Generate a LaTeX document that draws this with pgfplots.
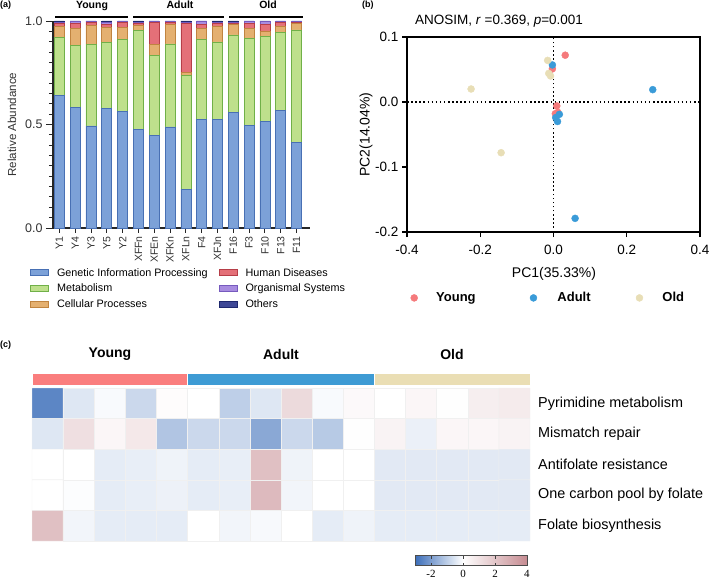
\documentclass[border=0pt]{standalone}
\usepackage{pgfplots}
\pgfplotsset{compat=1.18}
\usepackage{pgfplotstable}
\usepackage{fontspec}
\setmainfont{Liberation Sans}
\newfontfamily\seriffont{Liberation Serif}

\definecolor{cgen}{RGB}{124,161,216}
\definecolor{cgenD}{RGB}{72,112,180}
\definecolor{cmet}{RGB}{190,224,140}
\definecolor{cmetD}{RGB}{112,176,72}
\definecolor{ccel}{RGB}{228,176,112}
\definecolor{ccelD}{RGB}{192,132,64}
\definecolor{chum}{RGB}{228,112,120}
\definecolor{chumD}{RGB}{182,62,72}
\definecolor{corg}{RGB}{168,140,224}
\definecolor{corgD}{RGB}{118,90,190}
\definecolor{coth}{RGB}{62,72,150}
\definecolor{cothD}{RGB}{30,40,110}
\definecolor{cyoung}{RGB}{245,122,124}
\definecolor{cadult}{RGB}{58,155,216}
\definecolor{cold}{RGB}{232,222,182}
\definecolor{hyoung}{RGB}{250,126,126}
\definecolor{hadult}{RGB}{62,155,212}
\definecolor{hold}{RGB}{234,222,180}

\pgfplotsset{
  patchleg/.style={legend image code/.code={\draw[##1, line width=0.8pt] (0pt,-3pt) rectangle (18pt,3pt);}},
}

\pgfplotstableread{
x gen met cel hum org oth
0 0.639 0.282 0.053 0.016 0.005 0.005
1 0.583 0.297 0.083 0.024 0.011 0.002
2 0.493 0.393 0.091 0.018 0.003 0.002
3 0.579 0.317 0.075 0.012 0.012 0.005
4 0.563 0.347 0.061 0.023 0.003 0.003
5 0.477 0.478 0.024 0.011 0.005 0.005
6 0.448 0.387 0.051 0.109 0.002 0.003
7 0.488 0.401 0.095 0.011 0.003 0.002
8 0.185 0.552 0.016 0.237 0.002 0.008
9 0.525 0.388 0.052 0.019 0.014 0.002
10 0.525 0.374 0.077 0.014 0.005 0.005
11 0.557 0.376 0.051 0.006 0.004 0.006
12 0.496 0.421 0.049 0.021 0.011 0.002
13 0.515 0.410 0.027 0.032 0.014 0.002
14 0.570 0.375 0.031 0.019 0.003 0.002
15 0.414 0.543 0.030 0.008 0.003 0.002
}\abund

\pgfplotstableread{
x y c
0 0 -2.5
1 0 -0.5
2 0 -0.1
3 0 -0.8
4 0 0.1
5 0 0.0
6 0 -1.0
7 0 -0.5
8 0 1.3
9 0 -0.1
10 0 0.2
11 0 0.0
12 0 0.3
13 0 0.05
14 0 0.6
15 0 0.7
0 1 -0.5
1 1 1.1
2 1 0.3
3 1 0.8
4 1 -1.2
5 1 -0.8
6 1 -0.8
7 1 -1.8
8 1 -0.8
9 1 -1.1
10 1 0.05
11 1 0.4
12 1 -0.3
13 1 0.3
14 1 0.3
15 1 0.4
0 2 0.0
1 2 0.0
2 2 -0.4
3 2 -0.35
4 2 -0.25
5 2 -0.4
6 2 -0.35
7 2 2.2
8 2 -0.25
9 2 0.0
10 2 0.0
11 2 -0.45
12 2 -0.45
13 2 -0.45
14 2 -0.45
15 2 -0.45
0 3 0.0
1 3 -0.05
2 3 -0.4
3 3 -0.35
4 3 -0.28
5 3 -0.4
6 3 -0.35
7 3 2.4
8 3 -0.2
9 3 0.0
10 3 0.0
11 3 -0.45
12 3 -0.45
13 3 -0.45
14 3 -0.45
15 3 -0.45
0 4 2.2
1 4 -0.2
2 4 -0.4
3 4 -0.4
4 4 -0.4
5 4 0.0
6 4 -0.2
7 4 -0.12
8 4 0.0
9 4 -0.4
10 4 -0.25
11 4 -0.4
12 4 -0.4
13 4 -0.4
14 4 -0.4
15 4 -0.4
}\heat

\begin{document}
\begin{tikzpicture}[x=1pt,y=1pt]
\useasboundingbox (0,0) rectangle (709,579);

% ---------------- panel (a)
\begin{axis}[
  at={(53pt,351pt)}, anchor=south west, scale only axis,
  width=257pt, height=207pt,
  xmin=-0.4, xmax=15.85, ymin=0, ymax=1,
  ybar stacked, bar width=10pt,
  axis x line*=bottom, axis y line*=left,
  axis line style={line width=1.1pt, black!85},
  xtick={0,...,15},
  xticklabels={Y1,Y4,Y3,Y5,Y2,XFFn,XFEn,XFKn,XFLn,F4,XFJn,F16,F3,F10,F13,F11},
  xticklabel style={rotate=90, anchor=east, font=\fontsize{10.5}{12}\selectfont, text=black!80, inner sep=1pt},
  ytick={0,0.5,1}, minor y tick num=9,
  tick align=outside,
  major tick length=7pt, minor tick length=4pt,
  xtick style={/pgfplots/major tick length=4.5pt},
  tick style={line width=0.9pt, black!85},
  yticklabel style={font=\fontsize{12.5}{14}\selectfont, text=black!80,
    /pgf/number format/fixed, /pgf/number format/fixed zerofill,
    /pgf/number format/precision=1, /pgf/number format/assume math mode=true},
  legend columns=2,
  legend cell align=left,
  legend style={at={(-0.101,-0.174)}, anchor=north west, draw=none, fill=none,
    font=\fontsize{10.8}{12}\selectfont, row sep=2.5pt,
    /tikz/every even column/.append style={column sep=9pt},
    /tikz/every odd column/.append style={column sep=6pt}},
]
\addplot[forget plot, fill=cgen, draw=cgenD, line width=0.7pt] table[x=x, y=gen] {\abund};
\addplot[forget plot, fill=cmet, draw=cmetD, line width=0.7pt] table[x=x, y=met] {\abund};
\addplot[forget plot, fill=ccel, draw=ccelD, line width=0.7pt] table[x=x, y=cel] {\abund};
\addplot[forget plot, fill=chum, draw=chumD, line width=0.7pt] table[x=x, y=hum] {\abund};
\addplot[forget plot, fill=corg, draw=corgD, line width=0.7pt] table[x=x, y=org] {\abund};
\addplot[forget plot, fill=coth, draw=cothD, line width=0.7pt] table[x=x, y=oth] {\abund};
\addlegendimage{patchleg, fill=cgen, draw=cgenD}
\addlegendentry{Genetic Information Processing}
\addlegendimage{patchleg, fill=chum, draw=chumD}
\addlegendentry{Human Diseases}
\addlegendimage{patchleg, fill=cmet, draw=cmetD}
\addlegendentry{Metabolism}
\addlegendimage{patchleg, fill=corg, draw=corgD}
\addlegendentry{Organismal Systems}
\addlegendimage{patchleg, fill=ccel, draw=ccelD}
\addlegendentry{Cellular Processes}
\addlegendimage{patchleg, fill=coth, draw=cothD}
\addlegendentry{Others}
\end{axis}
\draw[line width=1.1pt] (55,562) -- (128,562);
\draw[line width=1.1pt] (133,562) -- (224,562);
\draw[line width=1.1pt] (229,562) -- (303,562);
\node[font=\bfseries\fontsize{10.5}{12}\selectfont, anchor=base] at (92,570) {Young};
\node[font=\bfseries\fontsize{10.5}{12}\selectfont, anchor=base] at (180,570) {Adult};
\node[font=\bfseries\fontsize{10.5}{12}\selectfont, anchor=base] at (268,570) {Old};
\node[rotate=90, font=\fontsize{11.6}{13}\selectfont, text=black!80] at (12,454.5) {Relative Abundance};
\node[font=\bfseries\fontsize{9}{10}\selectfont, anchor=north west, inner sep=0pt] at (0,578) {(a)};

% ---------------- panel (b)
\begin{axis}[
  at={(407pt,347pt)}, anchor=south west, scale only axis,
  width=293pt, height=195pt,
  xmin=-0.4, xmax=0.4, ymin=-0.2, ymax=0.1,
  xtick={-0.4,-0.2,0,0.2,0.4}, ytick={-0.2,-0.1,0,0.1},
  xtick pos=left, ytick pos=left,
  tick align=outside, major tick length=5pt,
  axis line style={line width=1.5pt},
  tick style={line width=1.3pt, black},
  xticklabel style={font=\fontsize{13.5}{15}\selectfont, yshift=-5pt,
    /pgf/number format/fixed, /pgf/number format/fixed zerofill,
    /pgf/number format/precision=1, /pgf/number format/assume math mode=true},
  yticklabel style={font=\fontsize{13.5}{15}\selectfont,
    /pgf/number format/fixed, /pgf/number format/fixed zerofill,
    /pgf/number format/precision=1, /pgf/number format/assume math mode=true},
  clip=false,
  legend columns=3,
  legend image code/.code={\draw[#1] plot coordinates {(3.5pt,0pt)};},
  legend style={at={(0.0017,-0.338)}, anchor=west, draw=none, fill=none,
    font=\bfseries\fontsize{13}{15}\selectfont, nodes={inner sep=0pt},
    /tikz/column 1/.style={column sep=18.5pt},
    /tikz/column 2/.style={column sep=54.3pt},
    /tikz/column 3/.style={column sep=20.5pt},
    /tikz/column 4/.style={column sep=45.3pt},
    /tikz/column 5/.style={column sep=19.5pt}},
]
\draw[line width=1.5pt, dash pattern=on 1.5pt off 2.6pt] (axis cs:0,-0.2) -- (axis cs:0,0.1);
\draw[line width=1.5pt, dash pattern=on 1.5pt off 2.6pt] (axis cs:-0.4,0) -- (axis cs:0.4,0);
\addplot[only marks, mark=*, mark size=3.5pt, color=cyoung, mark options={draw=none, fill=cyoung}]
  coordinates {(0.032,0.072) (-0.003,0.051) (0.009,-0.006) (0.005,-0.018) (0.012,-0.016)};
\addlegendentry{Young}
\addplot[only marks, mark=*, mark size=3.5pt, color=cadult, mark options={draw=none, fill=cadult}]
  coordinates {(-0.003,0.057) (0.271,0.019) (0.059,-0.179) (0.016,-0.019) (0.011,-0.030) (0.006,-0.024)};
\addlegendentry{Adult}
\addplot[only marks, mark=*, mark size=3.5pt, color=cold, mark options={draw=none, fill=cold}]
  coordinates {(-0.016,0.064) (-0.225,0.020) (-0.143,-0.078) (-0.013,0.044) (-0.008,0.040)};
\addlegendentry{Old}
\end{axis}
\node[anchor=west, inner sep=0pt, font=\fontsize{13.5}{15}\selectfont] at (415,558) {ANOSIM, \textit{r} =0.369, \textit{p}=0.001};
\node[font=\fontsize{14}{16}\selectfont] at (554,305) {PC1(35.33\%)};
\node[rotate=90, font=\fontsize{14}{16}\selectfont] at (366,444.5) {PC2(14.04\%)};
\node[font=\bfseries\fontsize{9}{10}\selectfont, anchor=north west, inner sep=0pt] at (362,578) {(b)};

% ---------------- panel (c)
\begin{axis}[
  at={(32pt,38pt)}, anchor=south west, scale only axis,
  width=498pt, height=153pt,
  xmin=-0.5, xmax=15.5, ymin=-0.5, ymax=4.5, y dir=reverse,
  axis line style={draw=none}, major tick length=0pt,
  xtick=\empty, ytick={0,1,2,3,4},
  yticklabels={Pyrimidine metabolism, Mismatch repair, Antifolate resistance, One carbon pool by folate, Folate biosynthesis},
  yticklabel pos=right,
  yticklabel style={font=\fontsize{14.4}{16}\selectfont, anchor=west, inner sep=0pt, xshift=8pt},
  colormap={hm}{rgb255(0pt)=(60,110,185); rgb255(3pt)=(255,255,255); rgb255(7pt)=(198,140,146)},
  point meta min=-3, point meta max=4,
  colorbar horizontal,
  colorbar style={
    at={(parent axis.south west)}, anchor=north west, xshift=383pt, yshift=-6pt,
    width=112pt, height=10pt, scale only axis,
    xtick={-2,0,2,4}, xticklabels={-2,0,2,4},
    xticklabel style={font=\seriffont\fontsize{11}{12}\selectfont, inner sep=1pt, yshift=-3.5pt},
    tick align=inside, xtick pos=both, major tick length=3pt,
    tick style={black!75, line width=0.6pt},
    axis line style={black!70, line width=0.7pt},
  },
  clip=false,
]
\addplot[matrix plot*, mesh/cols=16, point meta=explicit, shader=faceted, faceted color=black!6] table[meta=c] {\heat};
\addplot[fill=hyoung, draw=white, line width=0.5pt] coordinates {(-0.5,-0.6) (4.5,-0.6) (4.5,-0.99) (-0.5,-0.99)} -- cycle;
\addplot[fill=hadult, draw=white, line width=0.5pt] coordinates {(4.5,-0.6) (10.5,-0.6) (10.5,-0.99) (4.5,-0.99)} -- cycle;
\addplot[fill=hold, draw=white, line width=0.5pt] coordinates {(10.5,-0.6) (15.5,-0.6) (15.5,-0.99) (10.5,-0.99)} -- cycle;
\end{axis}
\node[font=\bfseries\fontsize{14}{16}\selectfont] at (110,225) {Young};
\node[font=\bfseries\fontsize{14}{16}\selectfont] at (281,225) {Adult};
\node[font=\bfseries\fontsize{14}{16}\selectfont] at (452,225) {Old};
\node[font=\bfseries\fontsize{9}{10}\selectfont, anchor=north west, inner sep=0pt] at (0,238) {(c)};
\end{tikzpicture}
\end{document}
